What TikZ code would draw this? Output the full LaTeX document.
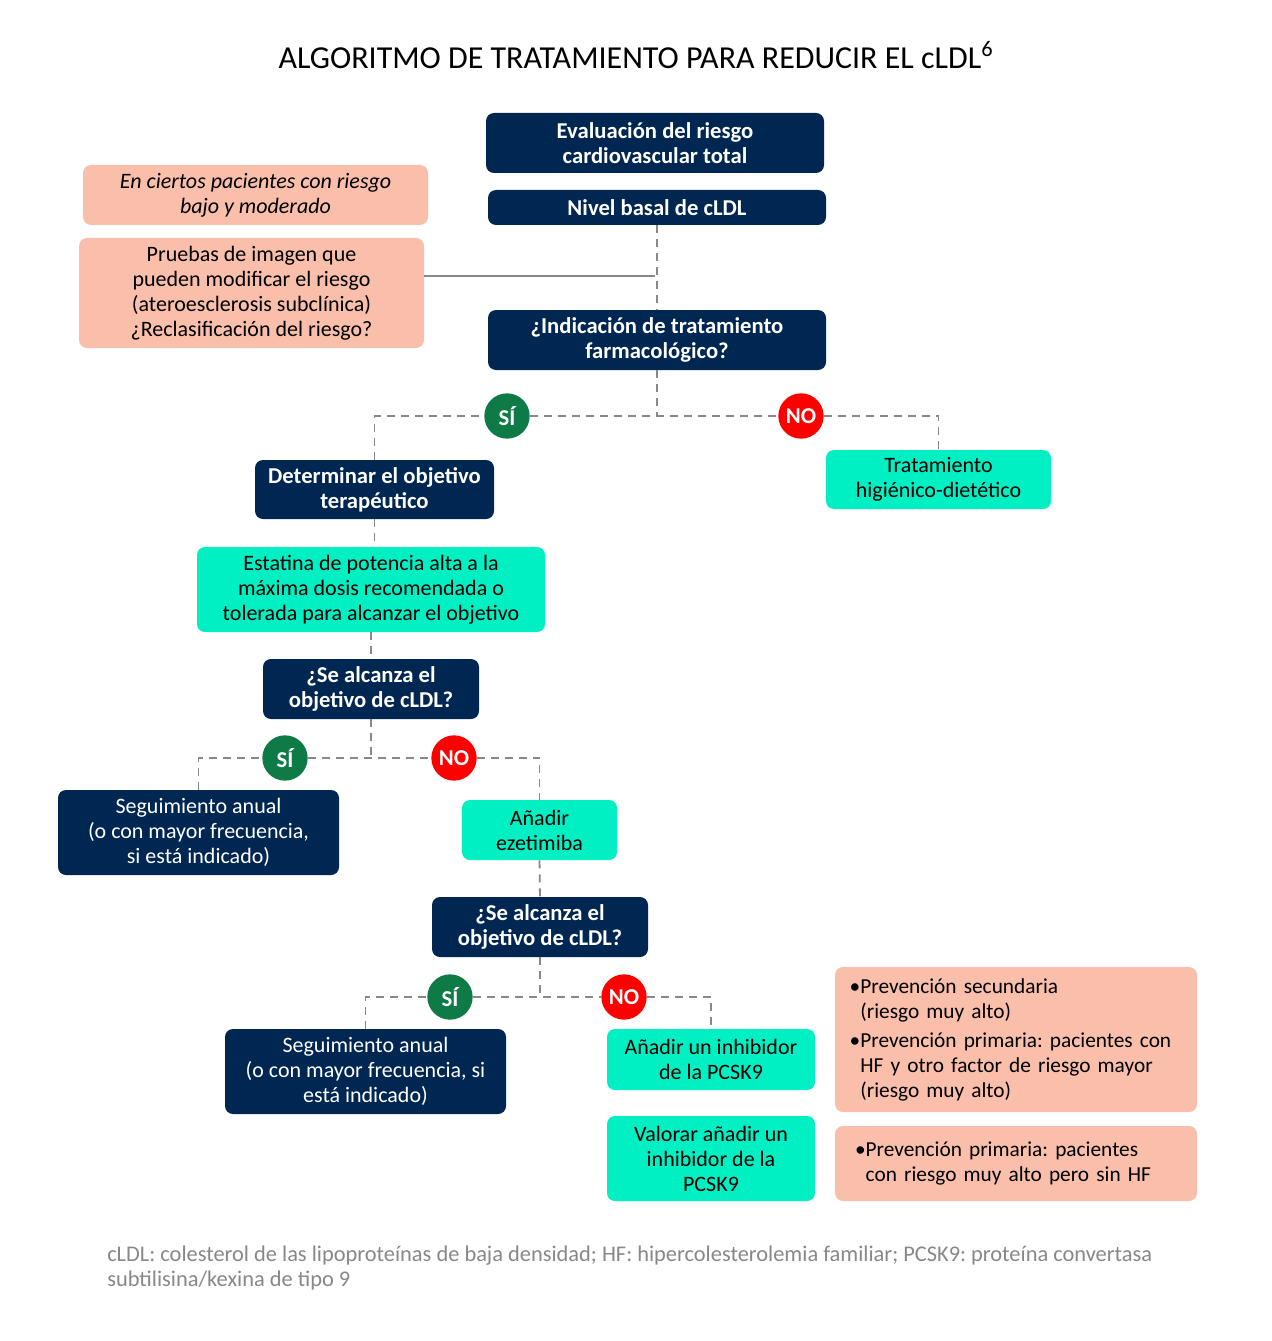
\documentclass[tikz,border=0pt]{standalone}
\usepackage{fontspec}
\setmainfont{Carlito}
\frenchspacing
\definecolor{navy}{HTML}{002652}
\definecolor{teal}{HTML}{00F0C3}
\definecolor{pink}{HTML}{F9BFAB}
\definecolor{sigreen}{HTML}{0E7A45}
\definecolor{nored}{HTML}{FF0000}
\definecolor{lgray}{HTML}{888888}
\newcommand\mybox[7]{\node[#2, minimum width={(#5-#3)*0.75pt}, minimum height={(#6-#4)*0.75pt}] (#1) at ({(#3+#5)/2},{(#4+#6)/2}) {#7};}
\newcommand\bul{\makebox[8pt][l]{•}}
\newcommand\ind{\hspace*{8pt}}
\begin{document}
\begin{tikzpicture}[x=0.75pt,y=-0.75pt,
  base/.style={rounded corners=6pt, inner sep=0pt, align=center, font=\fontsize{16.5}{18.75}\selectfont\frenchspacing},
  nbox/.style={base, fill=navy, text=white, font=\fontsize{17}{18.75}\selectfont\bfseries\frenchspacing},
  tbox/.style={base, fill=teal, text=black},
  pbox/.style={base, fill=pink, text=black},
  lbox/.style={pbox, align=left, inner xsep=11pt, font=\fontsize{16}{18.75}\selectfont\frenchspacing},
  dl/.style={draw=lgray, line width=1.4pt, dash pattern=on 6pt off 4.5pt},
  sl/.style={draw=lgray, line width=1.4pt},
  sic/.style={circle, fill=sigreen, text=white, minimum size=34pt, inner sep=0pt, font=\fontsize{17}{18}\selectfont\bfseries},
  noc/.style={circle, fill=nored, text=white, minimum size=34pt, inner sep=0pt, font=\fontsize{17}{18}\selectfont\bfseries}]
\useasboundingbox[fill=white] (0,0) rectangle (1271,1341);
\node[font=\fontsize{24}{28}\selectfont] (title) at (636,55) {ALGORITMO DE TRATAMIENTO PARA REDUCIR EL cLDL\textsuperscript{6}};
\mybox{eval}{nbox}{486}{113}{824}{173}{Evaluación del riesgo\\cardiovascular total}
\mybox{nivel}{nbox}{488}{190}{826}{225}{Nivel basal de cLDL}
\mybox{ciertos}{pbox,font=\fontsize{16.5}{18.75}\selectfont\itshape}{83}{165}{428}{225}{En ciertos pacientes con riesgo\\bajo y moderado}
\mybox{pruebas}{pbox}{79}{238}{424}{348}{Pruebas de imagen que\\pueden modificar el riesgo\\(ateroesclerosis subclínica)\\¿Reclasificación del riesgo?}
\mybox{indic}{nbox}{488}{310}{826}{370}{¿Indicación de tratamiento\\farmacológico?}
\node[sic] (si1) at (507,416) {SÍ};
\node[noc] (no1) at (801,416) {NO};
\mybox{detobj}{nbox}{255}{460}{494}{519}{Determinar el objetivo\\terapéutico}
\mybox{trat}{tbox}{826}{450}{1051}{509}{Tratamiento\\higiénico-dietético}
\mybox{estat}{tbox}{197}{547}{545}{632}{Estatina de potencia alta a la\\máxima dosis recomendada o\\tolerada para alcanzar el objetivo}
\mybox{alc1}{nbox}{263}{659}{479}{719}{¿Se alcanza el\\objetivo de cLDL?}
\node[sic] (si2) at (285,758) {SÍ};
\node[noc] (no2) at (454,758) {NO};
\mybox{seg1}{nbox,font=\fontsize{16.5}{18.75}\selectfont}{58}{790}{339}{875}{Seguimiento anual\\(o con mayor frecuencia,\\si está indicado)}
\mybox{ezet}{tbox}{462}{800}{617}{860}{Añadir\\ezetimiba}
\mybox{alc2}{nbox}{432}{897}{648}{957}{¿Se alcanza el\\objetivo de cLDL?}
\node[sic] (si3) at (450,997) {SÍ};
\node[noc] (no3) at (624,997) {NO};
\mybox{seg2}{nbox,font=\fontsize{16.5}{18.75}\selectfont}{225}{1029}{506}{1114}{Seguimiento anual\\(o con mayor frecuencia, si\\está indicado)}
\mybox{inhib}{tbox}{607}{1029}{815}{1090}{Añadir un inhibidor\\de la PCSK9}
\mybox{valor}{tbox}{607}{1116}{815}{1201}{Valorar añadir un\\inhibidor de la\\PCSK9}
\mybox{prev1}{lbox,text width=249.5pt}{835}{967}{1197}{1112}{\bul Prevención secundaria\\\ind(riesgo muy alto)\\[3pt]\bul Prevención primaria: pacientes con\\\ind HF y otro factor de riesgo mayor\\\ind(riesgo muy alto)}
\mybox{prev2}{lbox,inner xsep=15pt,text width=241.5pt}{835}{1126}{1197}{1201}{\bul Prevención primaria: pacientes\\\ind con riesgo muy alto pero sin HF}
\node[anchor=north west, align=left, text=lgray, inner sep=0pt, font=\fontsize{16.8}{18.75}\selectfont] (foot) at (107,1246) {cLDL: colesterol de las lipoproteínas de baja densidad; HF: hipercolesterolemia familiar; PCSK9: proteína convertasa\\subtilisina/kexina de tipo 9};
% connectors
\coordinate (j1) at (655,276);
\draw[dl] (nivel.south) -- (indic.north);
\draw[sl] (pruebas.east |- j1) -- (j1);
\draw[dl] (indic.south) -- (indic.south |- si1.center);
\draw[dl] (detobj.north) |- (si1.west);
\draw[dl] (si1.east) -- (no1.west);
\draw[dl] (no1.east) -| (trat.north);
\draw[dl] (detobj.south) -- (estat.north -| detobj.south);
\draw[dl] (estat.south -| alc1.north) -- (alc1.north);
\draw[dl] (alc1.south) -- (alc1.south |- si2.center);
\draw[dl] (seg1.north) |- (si2.west);
\draw[dl] (si2.east) -- (no2.west);
\draw[dl] (no2.east) -| (ezet.north);
\draw[dl] (ezet.south) -- (alc2.north);
\draw[dl] (alc2.south) -- (alc2.south |- si3.center);
\draw[dl] (seg2.north) |- (si3.west);
\draw[dl] (si3.east) -- (no3.west);
\draw[dl] (no3.east) -| (inhib.north);
\end{tikzpicture}
\end{document}
